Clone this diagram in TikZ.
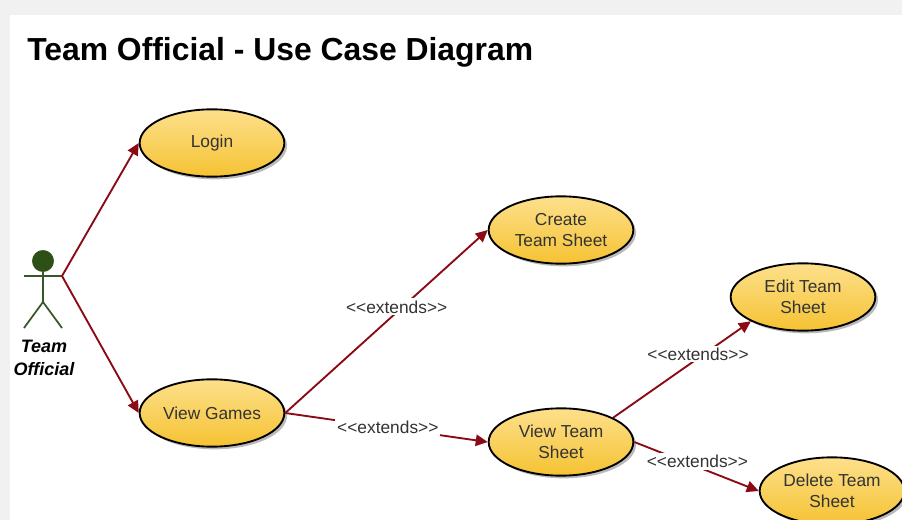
\documentclass[tikz,border=0pt]{standalone}
\usepackage{fontspec}
\setmainfont{Liberation Sans}
\usetikzlibrary{arrows.meta,shapes.geometric,shadows}
\definecolor{caseTop}{HTML}{FDE08C}
\definecolor{caseBottom}{HTML}{F5C232}
\definecolor{actorGreen}{HTML}{2D5016}
\definecolor{linkRed}{HTML}{8B0A14}
\definecolor{pageGray}{HTML}{F1F1F1}
\definecolor{labelGray}{HTML}{333333}

\begin{document}
\begin{tikzpicture}[x=0.75pt, y=-0.75pt,
    every node/.style={font=\fontsize{13}{15.5}\selectfont, text=labelGray},
    usecase/.style={ellipse, draw=black, line width=1.4pt, top color=caseTop, bottom color=caseBottom,
      minimum width=108.5pt, minimum height=50.5pt, inner sep=0pt, align=center,
      drop shadow={shadow xshift=2pt, shadow yshift=-2pt, fill=black!45, opacity=0.6}},
    link/.style={draw=linkRed, line width=1.4pt, -{Triangle[length=9pt, width=8.5pt]}},
    extlabel/.style={fill=white, inner sep=1.5pt},
    stick/.style={draw=actorGreen!85!gray, line width=1.3pt}]
  \useasboundingbox (0,0) rectangle (902,520);
  \fill[pageGray] (0,0) rectangle (902,520);
  \fill[white] (10,15) rectangle (902,520);

  % TITLE
  \node[font=\fontsize{23.9}{28}\selectfont\bfseries, text=black, anchor=west, inner sep=0pt] (title) at (27,52) {Team Official - Use Case Diagram};

  % ACTOR
  \node[circle, fill=actorGreen, draw=actorGreen!85!gray, minimum size=16pt, inner sep=0pt] (head) at (43,261) {};
  \coordinate (hip) at (43,302);
  \coordinate (handL) at (24,276);
  \coordinate (handR) at (62,276);
  \coordinate (footL) at (24,328);
  \coordinate (footR) at (62,328);
  \draw[stick] (head.south) -- (hip);
  \draw[stick] (handL) -- (handR);
  \draw[stick] (footL) -- (hip) -- (footR);
  \node[font=\fontsize{13.5}{17.25}\selectfont\bfseries\itshape, text=black, align=center] (actor) at (44,358) {Team\\Official};

  % USE CASES
  \node[usecase] (login) at (212,143) {Login};
  \node[usecase] (viewgames) at (212,413) {View Games};
  \node[usecase] (createsheet) at (561,230) {Create\\Team Sheet};
  \node[usecase] (viewsheet) at (561,442) {View Team\\Sheet};
  \node[usecase] (editsheet) at (803,297) {Edit Team\\Sheet};
  \node[usecase] (deletesheet) at (832,491) {Delete Team\\Sheet};

  % LINKS
  \draw[link] (handR) -- (login.west);
  \draw[link] (handR) -- (viewgames.west);
  \draw[link] (viewgames.east) -- node[extlabel, pos=0.58, xshift=-4.5pt] (extA) {<{}<extends>{}>} (createsheet.west);
  \draw[link] (viewgames.east) -- node[extlabel, pos=0.5, xshift=1pt] (extB) {<{}<extends>{}>} (viewsheet.west);
  \draw[link] (viewsheet.25) -- node[extlabel, pos=0.66, xshift=-4.5pt] (extC) {<{}<extends>{}>} (editsheet.205);
  \draw[link] (viewsheet.east) -- node[extlabel, pos=0.4, xshift=10pt] (extD) {<{}<extends>{}>} (deletesheet.west);
\end{tikzpicture}
\end{document}
